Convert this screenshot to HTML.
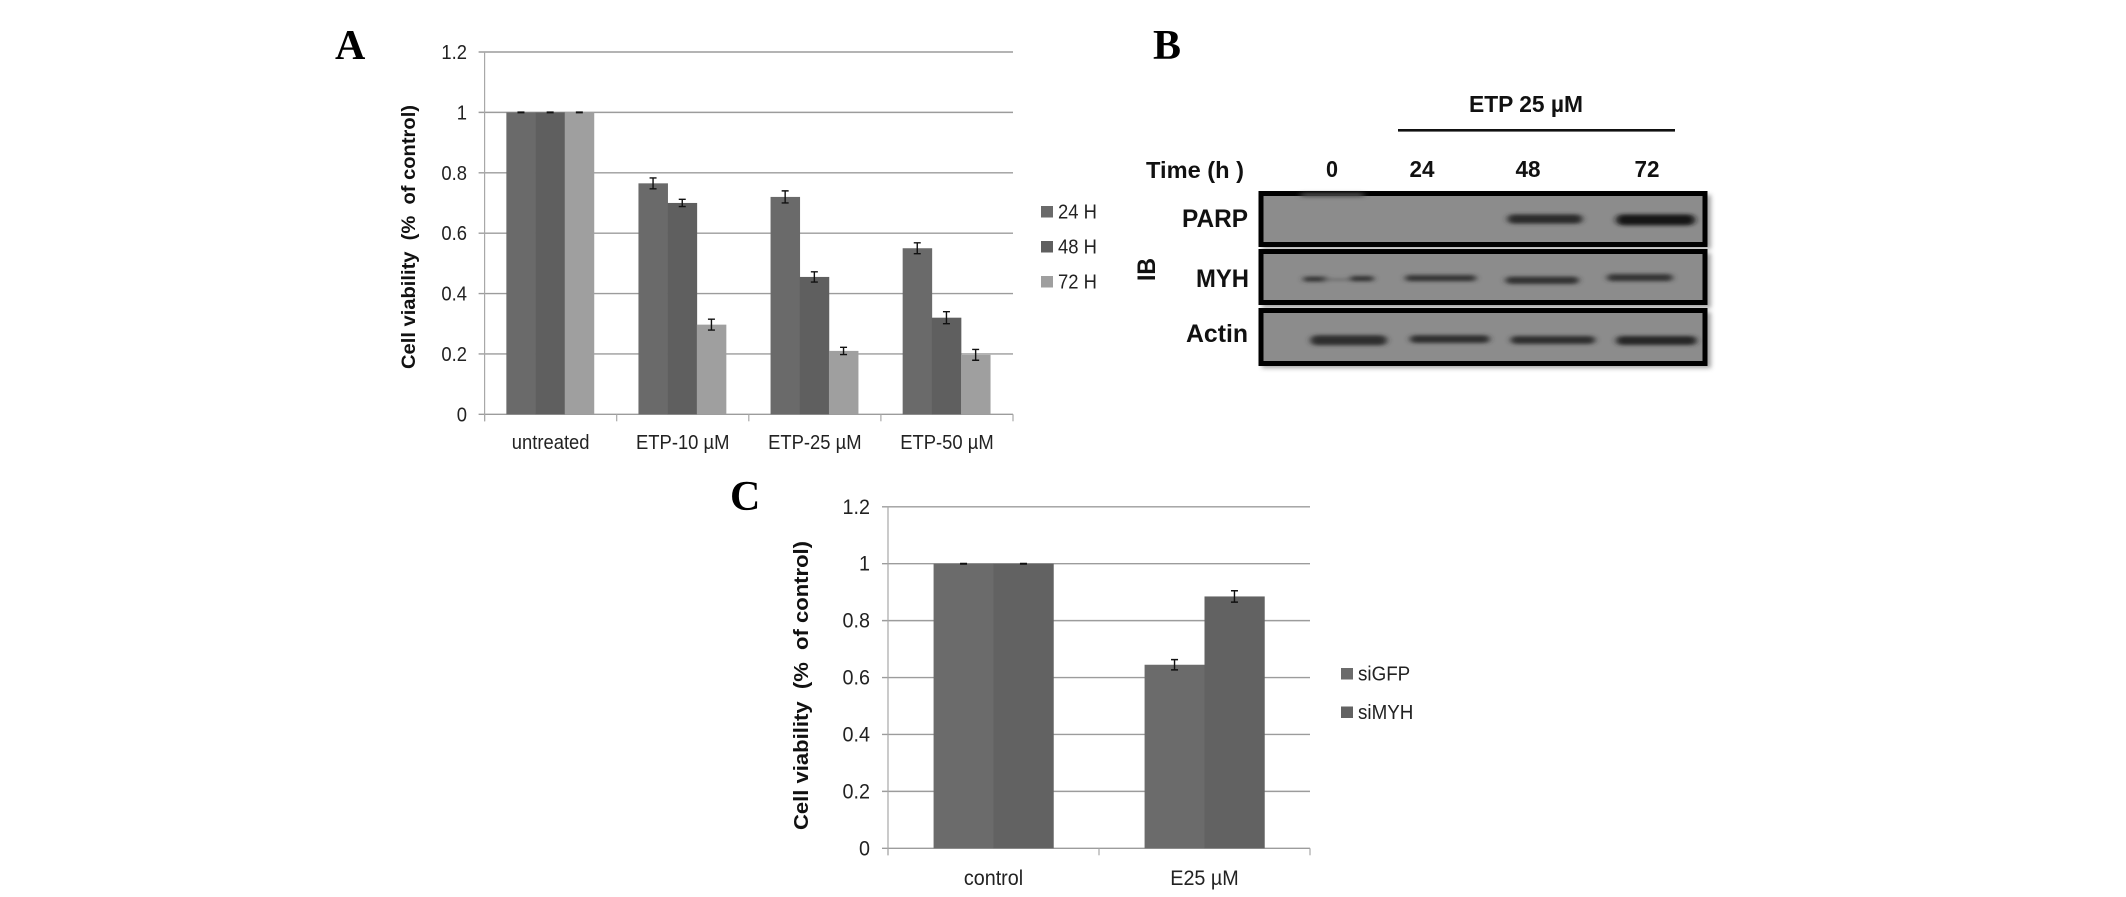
<!DOCTYPE html>
<html><head><meta charset="utf-8"><title>Cell viability and immunoblot figure</title>
<style>
html,body{margin:0;padding:0;background:#fff;width:2126px;height:897px;overflow:hidden}
svg{display:block;font-family:"Liberation Sans",sans-serif}
.letter{font-family:"Liberation Serif",serif;font-weight:bold;font-size:42px;fill:#000}
.blot{font-weight:bold;fill:#111}
</style></head>
<body>
<svg id="fig" width="2126" height="897" viewBox="0 0 2126 897" xmlns="http://www.w3.org/2000/svg">
<defs>
<filter id="b3" x="-30%" y="-100%" width="160%" height="300%"><feGaussianBlur stdDeviation="8 5.5"/></filter>
<filter id="sh" x="-5%" y="-10%" width="110%" height="125%"><feGaussianBlur stdDeviation="2.5"/></filter>
</defs>
<rect width="2126" height="897" fill="#fff"/>
<text class="letter" x="335" y="59">A</text>
<text class="letter" x="1153" y="59">B</text>
<text class="letter" x="730" y="510">C</text>

<g id="chartA"></g>
<g id="chartC"></g>

<g>
  <text class="blot" x="1469" y="112" font-size="23" textLength="114" lengthAdjust="spacingAndGlyphs">ETP 25 µM</text>
  <rect x="1398" y="129" width="277" height="2.6" fill="#111"/>
  <text class="blot" x="1146" y="178" font-size="23" textLength="98" lengthAdjust="spacingAndGlyphs">Time (h )</text>
  <text class="blot" x="1332" y="177" font-size="23" text-anchor="middle" textLength="12" lengthAdjust="spacingAndGlyphs">0</text>
  <text class="blot" x="1422" y="177" font-size="23" text-anchor="middle" textLength="25" lengthAdjust="spacingAndGlyphs">24</text>
  <text class="blot" x="1528" y="177" font-size="23" text-anchor="middle" textLength="25" lengthAdjust="spacingAndGlyphs">48</text>
  <text class="blot" x="1647" y="177" font-size="23" text-anchor="middle" textLength="25" lengthAdjust="spacingAndGlyphs">72</text>
  <text class="blot" x="1182" y="227" font-size="25" textLength="66" lengthAdjust="spacingAndGlyphs">PARP</text>
  <text class="blot" x="1196" y="287" font-size="25" textLength="53" lengthAdjust="spacingAndGlyphs">MYH</text>
  <text class="blot" x="1186" y="342" font-size="25" textLength="62" lengthAdjust="spacingAndGlyphs">Actin</text>
  <text class="blot" transform="translate(1155,281) rotate(-90)" font-size="25" textLength="23" lengthAdjust="spacingAndGlyphs">IB</text>

  <g fill="#666" filter="url(#sh)" opacity=".6">
    <rect x="1262" y="195" width="449" height="54"/>
    <rect x="1262" y="253" width="449" height="55"/>
    <rect x="1262" y="312" width="449" height="56"/>
  </g>
  <g fill="#8c8c8c" stroke="#000" stroke-width="5">
    <rect x="1261" y="193.5" width="444" height="51"/>
    <rect x="1261" y="251.5" width="444" height="51"/>
    <rect x="1261" y="310.5" width="444" height="53"/>
  </g>
  <g transform="translate(1131.4,60) scale(.398,.3333)">
    <g filter="url(#b3)">
      <rect x="425" y="399" width="160" height="12" rx="6" fill="#505050"/>
      <rect x="945" y="463" width="188" height="28" rx="14" fill="#2a2a2a"/>
      <rect x="1218" y="463" width="198" height="33" rx="16" fill="#181818"/>
      <rect x="432" y="650" width="60" height="15" rx="7" fill="#303030"/>
      <rect x="480" y="656" width="80" height="6" rx="3" fill="#666"/>
      <rect x="549" y="648" width="60" height="16" rx="8" fill="#303030"/>
      <rect x="688" y="645" width="178" height="19" rx="9" fill="#343434"/>
      <rect x="940" y="650" width="184" height="22" rx="11" fill="#333"/>
      <rect x="1195" y="642" width="165" height="22" rx="11" fill="#363636"/>
      <rect x="450" y="826" width="192" height="30" rx="15" fill="#2e2e2e"/>
      <rect x="700" y="826" width="200" height="23" rx="11" fill="#2e2e2e"/>
      <rect x="953" y="828" width="212" height="24" rx="12" fill="#2e2e2e"/>
      <rect x="1218" y="828" width="202" height="27" rx="13" fill="#282828"/>
    </g>
  </g>
</g>
</svg>
<script>
// Panel A values
const aCategories = ["untreated", "ETP-10 µM", "ETP-25 µM", "ETP-50 µM"];
const aSeriesNames = ["24 H", "48 H", "72 H"];
const aValues24 = [1, 0.765, 0.72, 0.55];
const aValues48 = [1, 0.70, 0.455, 0.32];
const aValues72 = [1, 0.297, 0.21, 0.197];
const aErrors24 = [0.001, 0.018, 0.02, 0.018];
const aErrors48 = [0.001, 0.012, 0.017, 0.02];
const aErrors72 = [0.001, 0.018, 0.012, 0.018];
// Panel C values
const cCategories = ["control", "E25 µM"];
const cSeriesNames = ["siGFP", "siMYH"];
const cValuesGfp = [1, 0.645];
const cValuesMyh = [1, 0.885];
const cErrorsGfp = [0.001, 0.018];
const cErrorsMyh = [0.001, 0.02];
// Shared axis
const yTickValues = [0, 0.2, 0.4, 0.6, 0.8, 1, 1.2];
const yTickLabels = ["0", "0.2", "0.4", "0.6", "0.8", "1", "1.2"];
const yAxisTitle = "Cell viability  (%  of control)";

const NS = "http://www.w3.org/2000/svg";
function mk(parent, tag, props, txt) {
  const e = document.createElementNS(NS, tag);
  for (const k in props) e.setAttribute(k, props[k]);
  if (txt !== undefined) e.textContent = txt;
  parent.appendChild(e);
  return e;
}
function squeeze(t, f) {
  t.setAttribute("textLength", t.getComputedTextLength() * f);
  t.setAttribute("lengthAdjust", "spacingAndGlyphs");
}

function drawChart(root, o) {
  const yMax = yTickValues[yTickValues.length - 1];
  const sy = v => o.y0 - (v / yMax) * (o.y0 - o.y1);
  const catW = (o.x1 - o.x0) / o.categories.length;
  const barW = catW * o.barFrac;
  const nS = o.series.length;
  const margin = (catW - barW * nS) / 2;
  const sx = (c, s) => o.x0 + c * catW + margin + s * barW;

  // gridlines and y tick labels
  yTickValues.forEach((v, i) => {
    const gl = mk(root, "line", {x1: o.x0 - 6, x2: o.x1, y1: sy(v), y2: sy(v), stroke: "#9c9c9c", "stroke-width": 1.4});
    
    
    const tl = mk(root, "text", {x: o.tickRight, y: sy(v) + 7, "text-anchor": "end", "font-size": o.fs, fill: "#222"}, yTickLabels[i]);
    squeeze(tl, o.squeeze);
    
    
  });
  // y axis
  const ya = mk(root, "line", {x1: o.x0, x2: o.x0, y1: sy(yMax), y2: o.y0 + 7, stroke: "#a8a8a8", "stroke-width": 1.2});
  
  
  // x ticks and labels
  for (let c = 0; c <= o.categories.length; c++) {
    const t = mk(root, "line", {x1: o.x0 + c * catW, x2: o.x0 + c * catW, y1: o.y0, y2: o.y0 + 7, stroke: "#a8a8a8", "stroke-width": 1.2});
    
    
  }
  o.categories.forEach((cat, c) => {
    const t = mk(root, "text", {x: o.x0 + (c + 0.5) * catW, y: o.labelY, "text-anchor": "middle", "font-size": o.fs, fill: "#222"}, cat);
    squeeze(t, o.squeeze);
    
    
  });
  // bars with error bars
  o.series.forEach((s, si) => {
    s.values.forEach((v, c) => {
      const b = mk(root, "rect", {x: sx(c, si) - o.barShift, y: sy(v), width: barW + 0.3, height: o.y0 - sy(v), fill: s.color});
      
      
    });
  });
  o.series.forEach((s, si) => {
    s.values.forEach((v, c) => {
      const e = s.errors[c];
      const cx = sx(c, si) - o.barShift + barW / 2;
      const path = "M" + (cx - 3.5) + " " + sy(v + e) + "H" + (cx + 3.5) + "M" + cx + " " + sy(v + e) + "V" + sy(v - e) + "M" + (cx - 3.5) + " " + sy(v - e) + "H" + (cx + 3.5);
      const w = mk(root, "path", {d: path, stroke: "#111", "stroke-width": 1.4, fill: "none"});
      
      
    });
  });
  // legend
  o.series.forEach((s, si) => {
    const ly = o.legendY + si * o.legendStep;
    const sq = mk(root, "rect", {x: o.legendX, y: ly, width: 12, height: 11.5, fill: s.color});
    
    
    const lt = mk(root, "text", {x: o.legendX + 17, y: ly + 12.5, "font-size": o.legendFs, fill: "#222"}, s.name);
    squeeze(lt, o.squeeze);
    
    
  });
  // y title
  const title = mk(root, "text", {transform: "translate(" + o.titleX + "," + o.titleY + ") rotate(-90)", "font-size": o.titleFs, "font-weight": "bold", fill: "#111", textLength: o.titleLen, lengthAdjust: "spacingAndGlyphs"}, yAxisTitle);
  title.setAttribute('xml:space', 'preserve');
  title.style.whiteSpace = 'pre';
  
  
}

drawChart(document.getElementById("chartA"), {
  categories: aCategories,
  series: [
    {name: aSeriesNames[0], values: aValues24, errors: aErrors24, color: "#6a6a6a"},
    {name: aSeriesNames[1], values: aValues48, errors: aErrors48, color: "#5f5f5f"},
    {name: aSeriesNames[2], values: aValues72, errors: aErrors72, color: "#9f9f9f"}
  ],
  x0: 484.6, x1: 1013, y0: 414.3, y1: 52, barFrac: 0.221, barShift: 0.5,
  tickRight: 467, labelY: 449, fs: 20, squeeze: 0.92,
  legendX: 1041, legendY: 206, legendStep: 35, legendFs: 20,
  titleX: 415, titleY: 369, titleFs: 19, titleLen: 264
});
drawChart(document.getElementById("chartC"), {
  categories: cCategories,
  series: [
    {name: cSeriesNames[0], values: cValuesGfp, errors: cErrorsGfp, color: "#6b6b6b"},
    {name: cSeriesNames[1], values: cValuesMyh, errors: cErrorsMyh, color: "#626262"}
  ],
  x0: 888, x1: 1310, y0: 848.3, y1: 506.8, barFrac: 0.284, barShift: 0,
  tickRight: 870, labelY: 885, fs: 21, squeeze: 0.94,
  legendX: 1341, legendY: 668, legendStep: 38.5, legendFs: 20,
  titleX: 808, titleY: 830, titleFs: 20, titleLen: 289
});
</script>
</body></html>
